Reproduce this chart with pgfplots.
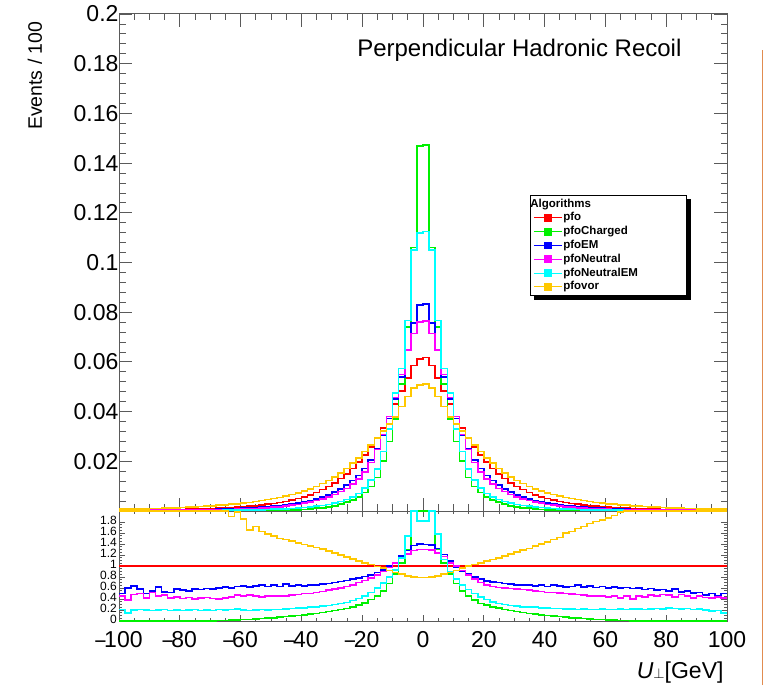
\documentclass[border=0pt]{standalone}
\usepackage{pgfplots}
\pgfplotsset{compat=1.18}
\usepackage{pgfplotstable}
\usepackage{fontspec}
\setmainfont{Liberation Sans}
\pgfdeclarelayer{bg}
\pgfsetlayers{bg,main}
\definecolor{hred}{RGB}{255,0,0}
\definecolor{hgreen}{RGB}{0,240,0}
\definecolor{hblue}{RGB}{0,0,255}
\definecolor{hmag}{RGB}{255,0,255}
\definecolor{hcyan}{RGB}{0,255,255}
\definecolor{horange}{RGB}{255,200,0}
\definecolor{frame}{RGB}{90,90,90}

% left bin edges; last row repeats last bin
\pgfplotstableread{
x r g b m c o
-100 .0003 0 .0002 .0002 .0001 .0007
-98 .0003 0 .0002 .0002 .0001 .0007
-96 .0003 0 .0002 .0002 .0001 .0008
-94 .0004 0 .0002 .0002 .0001 .0008
-92 .0004 0 .0002 .0002 .0001 .0009
-90 .0004 0 .0002 .0003 .0001 .0010
-88 .0005 0 .0003 .0003 .0001 .0010
-86 .0005 0 .0003 .0003 .0001 .0011
-84 .0005 0 .0003 .0003 .0001 .0012
-82 .0006 0 .0003 .0003 .0001 .0013
-80 .0006 0 .0004 .0004 .0001 .0014
-78 .0007 0 .0004 .0004 .0001 .0015
-76 .0008 0 .0004 .0004 .0002 .0016
-74 .0008 0 .0005 .0004 .0002 .0018
-72 .0009 0 .0005 .0004 .0002 .0019
-70 .0010 0 .0006 .0005 .0002 .0021
-68 .0011 0 .0007 .0005 .0002 .0023
-66 .0012 0 .0007 .0005 .0003 .0025
-64 .0014 0 .0008 .0006 .0003 .0028
-62 .0015 0 .0009 .0007 .0003 .0029
-60 .0017 .0001 .0011 .0008 .0004 .0032
-58 .0019 .0001 .0012 .0009 .0004 .0035
-56 .0021 .0001 .0013 .0010 .0005 .0038
-54 .0024 .0001 .0015 .0011 .0005 .0042
-52 .0027 .0001 .0017 .0013 .0006 .0046
-50 .0030 .0002 .0019 .0015 .0007 .0050
-48 .0034 .0002 .0021 .0017 .0008 .0054
-46 .0039 .0003 .0025 .0020 .0009 .0060
-44 .0044 .0004 .0028 .0023 .0010 .0066
-42 .0050 .0005 .0032 .0026 .0012 .0072
-40 .0057 .0006 .0036 .0031 .0014 .0080
-38 .0065 .0008 .0042 .0036 .0016 .0088
-36 .0075 .0011 .0049 .0042 .0019 .0099
-34 .0086 .0013 .0056 .0049 .0022 .0111
-32 .0098 .0017 .0065 .0057 .0026 .0123
-30 .0113 .0021 .0076 .0067 .0031 .0138
-28 .0130 .0027 .0088 .0078 .0038 .0153
-26 .0149 .0036 .0104 .0091 .0046 .0171
-24 .0171 .0044 .0123 .0108 .0056 .0192
-22 .0196 .0057 .0143 .0129 .0070 .0214
-20 .0225 .0074 .0171 .0158 .0093 .0239
-18 .0257 .0098 .0206 .0195 .0125 .0265
-16 .0294 .0135 .0250 .0247 .0170 .0294
-14 .0335 .0200 .0305 .0308 .0240 .0322
-12 .0380 .0280 .0372 .0380 .0330 .0350
-10 .0430 .0370 .0450 .0456 .0474 .0378
-8 .0482 .0510 .0540 .0550 .0574 .0420
-6 .0535 .0740 .0648 .0648 .0767 .0460
-4 .0585 .1060 .0757 .0715 .1050 .0495
-2 .0612 .1468 .0828 .0760 .1118 .0508
0 .0618 .1473 .0833 .0765 .1124 .0511
2 .0585 .1060 .0757 .0715 .1050 .0495
4 .0535 .0740 .0648 .0648 .0767 .0460
6 .0482 .0510 .0540 .0550 .0574 .0420
8 .0430 .0370 .0450 .0456 .0474 .0378
10 .0380 .0280 .0372 .0380 .0330 .0350
12 .0335 .0200 .0305 .0308 .0240 .0322
14 .0294 .0135 .0250 .0247 .0170 .0294
16 .0257 .0098 .0206 .0195 .0125 .0265
18 .0225 .0074 .0171 .0158 .0093 .0239
20 .0196 .0057 .0143 .0129 .0070 .0214
22 .0171 .0044 .0123 .0108 .0056 .0192
24 .0149 .0036 .0104 .0091 .0046 .0171
26 .0130 .0027 .0088 .0078 .0038 .0153
28 .0113 .0021 .0076 .0067 .0031 .0138
30 .0098 .0017 .0065 .0057 .0026 .0123
32 .0086 .0013 .0056 .0049 .0022 .0111
34 .0075 .0011 .0049 .0042 .0019 .0099
36 .0065 .0008 .0042 .0036 .0016 .0088
38 .0057 .0006 .0036 .0031 .0014 .0080
40 .0050 .0005 .0032 .0026 .0012 .0072
42 .0044 .0004 .0028 .0023 .0010 .0066
44 .0039 .0003 .0025 .0020 .0009 .0060
46 .0034 .0002 .0021 .0017 .0008 .0054
48 .0030 .0002 .0019 .0015 .0007 .0050
50 .0027 .0001 .0017 .0013 .0006 .0046
52 .0024 .0001 .0015 .0011 .0005 .0042
54 .0021 .0001 .0013 .0010 .0005 .0038
56 .0019 .0001 .0012 .0009 .0004 .0035
58 .0017 .0001 .0011 .0008 .0004 .0032
60 .0015 0 .0009 .0007 .0003 .0029
62 .0014 0 .0008 .0006 .0003 .0028
64 .0012 0 .0007 .0005 .0003 .0025
66 .0011 0 .0007 .0005 .0002 .0023
68 .0010 0 .0006 .0005 .0002 .0021
70 .0009 0 .0005 .0004 .0002 .0019
72 .0008 0 .0005 .0004 .0002 .0018
74 .0008 0 .0004 .0004 .0002 .0016
76 .0007 0 .0004 .0004 .0001 .0015
78 .0006 0 .0004 .0004 .0001 .0014
80 .0006 0 .0003 .0003 .0001 .0013
82 .0005 0 .0003 .0003 .0001 .0012
84 .0005 0 .0003 .0003 .0001 .0011
86 .0005 0 .0003 .0003 .0001 .0010
88 .0004 0 .0002 .0003 .0001 .0010
90 .0004 0 .0002 .0002 .0001 .0009
92 .0004 0 .0002 .0002 .0001 .0008
94 .0003 0 .0002 .0002 .0001 .0008
96 .0003 0 .0002 .0002 .0001 .0007
98 .0003 0 .0002 .0002 .0001 .0007
100 .0003 0 .0002 .0002 .0001 .0007
}\toptab

\pgfplotstableread{
x g b m c o
-100 0 .50 .45 .21 2
-98 0 .60 .38 .15 2
-96 0 .64 .48 .20 2
-94 0 .58 .50 .21 2
-92 0 .50 .42 .20 2
-90 0 .55 .52 .19 2
-88 0 .62 .45 .20 2
-86 0 .53 .47 .21 2
-84 0 .52 .42 .19 2
-82 0 .58 .44 .20 2
-80 0 .56 .41 .19 2
-78 0 .55 .43 .20 2
-76 0 .58 .40 .21 2
-74 0 .57 .42 .19 2
-72 .001 .59 .43 .20 2
-70 .003 .58 .41 .19 2
-68 .006 .60 .40 .21 2
-66 .009 .62 .42 .20 2
-64 .013 .60 .44 .21 1.90
-62 .018 .63 .47 .22 1.98
-60 .024 .64 .45 .20 1.85
-58 .03 .62 .47 .19 1.65
-56 .035 .64 .45 .20 1.72
-54 .042 .66 .44 .21 1.63
-52 .05 .63 .46 .20 1.58
-50 .06 .65 .45 .21 1.55
-48 .07 .63 .45 .21 1.50
-46 .08 .67 .46 .22 1.48
-44 .09 .64 .47 .23 1.45
-42 .10 .66 .48 .24 1.42
-40 .11 .64 .50 .24 1.39
-38 .125 .65 .50 .25 1.36
-36 .14 .66 .52 .26 1.34
-34 .155 .67 .54 .27 1.31
-32 .17 .68 .56 .28 1.27
-30 .19 .70 .58 .30 1.24
-28 .21 .72 .60 .32 1.20
-26 .23 .74 .63 .34 1.16
-24 .26 .76 .66 .37 1.13
-22 .29 .78 .70 .41 1.09
-20 .33 .81 .74 .46 1.06
-18 .39 .84 .78 .52 1.03
-16 .46 .88 .84 .60 .99
-14 .55 .93 .90 .69 .96
-12 .68 1.00 .97 .80 .92
-10 .85 1.06 1.05 .93 .88
-8 1.05 1.18 1.15 1.15 .85
-6 1.30 1.28 1.22 1.55 .82
-4 2 1.37 1.28 2 .80
-2 2 1.40 1.30 1.82 .79
0 2 1.39 1.30 1.82 .79
2 2 1.38 1.29 2 .80
4 1.30 1.32 1.24 1.58 .82
6 1.05 1.21 1.17 1.12 .85
8 .85 1.09 1.06 .90 .88
10 .68 .98 1.00 .76 .92
12 .55 .91 .92 .65 .96
14 .45 .85 .84 .57 1.00
16 .38 .80 .76 .50 1.03
18 .32 .76 .70 .44 1.06
20 .29 .73 .66 .39 1.09
22 .26 .71 .63 .35 1.12
24 .24 .70 .61 .32 1.15
26 .21 .68 .60 .30 1.18
28 .19 .67 .59 .28 1.22
30 .17 .66 .58 .27 1.25
32 .155 .65 .57 .26 1.29
34 .14 .66 .56 .25 1.32
36 .125 .64 .55 .25 1.36
38 .11 .65 .54 .24 1.40
40 .10 .63 .52 .24 1.44
42 .09 .66 .52 .23 1.48
44 .08 .64 .51 .23 1.52
46 .07 .62 .50 .22 1.60
48 .06 .63 .49 .22 1.63
50 .05 .65 .48 .21 1.68
52 .042 .62 .47 .22 1.72
54 .035 .64 .46 .21 1.77
56 .03 .61 .45 .21 1.81
58 .024 .63 .45 .22 1.84
60 .018 .60 .44 .21 1.87
62 .013 .62 .46 .21 1.92
64 .009 .60 .42 .22 1.98
66 .006 .61 .45 .21 2
68 .003 .59 .40 .22 2
70 .001 .60 .46 .22 2
72 0 .57 .44 .21 2
74 0 .59 .47 .22 2
76 0 .56 .45 .23 2
78 0 .57 .48 .22 2
80 0 .55 .47 .24 2
82 0 .58 .44 .23 2
84 0 .53 .48 .22 2
86 0 .55 .45 .23 2
88 0 .51 .42 .21 2
90 0 .52 .46 .22 2
92 0 .47 .43 .20 2
94 0 .50 .42 .18 2
96 0 .46 .44 .19 2
98 0 .50 .42 .15 2
100 0 .50 .42 .15 2
}\ratiotab

\newcommand{\mn}{\scalebox{0.8}[1]{\textendash}\kern-0.06em}
\begin{document}
\begin{tikzpicture}
\useasboundingbox (0,0) rectangle (767pt,685pt);
\begin{axis}[
  at={(119pt,174pt)}, anchor=south west, scale only axis,
  width=608pt, height=497pt,
  xmin=-100, xmax=100, ymin=0, ymax=0.2,
  clip=false,
  xtick={-100,-80,-60,-40,-20,0,20,40,60,80,100}, xticklabels={},
  minor x tick num=3,
  ytick={0,0.02,0.04,0.06,0.08,0.1,0.12,0.14,0.16,0.18,0.2},
  yticklabels={,0.02,0.04,0.06,0.08,0.1,0.12,0.14,0.16,0.18,0.2},
  minor y tick num=4,
  tick align=inside,
  major tick length=13pt, minor tick length=6.5pt,
  tick style={frame, line width=0.8pt},
  axis line style={frame, line width=1pt},
  yticklabel style={font=\fontsize{23}{23}\selectfont, xshift=3pt},
  legend cell align=left,
  legend style={at={(rel axis cs:0.676,0.636)}, anchor=north west,
    name=leg,
    draw=black, line width=0.8pt, fill=white,
    font=\fontsize{11.5}{12}\selectfont\bfseries,
    row sep=0.4pt, inner xsep=3pt, inner ysep=2pt,
    nodes={inner sep=1.2pt, text height=8.5pt, text depth=2.5pt}},
  legend image code/.code={\draw[#1, line width=0.7pt] (0pt,0pt) -- (28pt,0pt);
    \fill[#1] (10.5pt,-3.4pt) rectangle (17.5pt,3.4pt);},
]
\addplot[const plot, hred, line width=1.6pt, forget plot] table[x=x,y=r]{\toptab};
\addplot[const plot, hgreen, line width=1.6pt, forget plot] table[x=x,y=g]{\toptab};
\addplot[const plot, hblue, line width=1.6pt, forget plot] table[x=x,y=b]{\toptab};
\addplot[const plot, hmag, line width=1.6pt, forget plot] table[x=x,y=m]{\toptab};
\addplot[const plot, hcyan, line width=1.6pt, forget plot] table[x=x,y=c]{\toptab};
\addplot[const plot, horange, line width=1.6pt, forget plot] table[x=x,y=o]{\toptab};
\addlegendimage{empty legend}\addlegendentry{\hspace*{-33pt}Algorithms}
\addlegendimage{hred}\addlegendentry{pfo}
\addlegendimage{hgreen}\addlegendentry{pfoCharged}
\addlegendimage{hblue}\addlegendentry{pfoEM}
\addlegendimage{hmag}\addlegendentry{pfoNeutral}
\addlegendimage{hcyan}\addlegendentry{pfoNeutralEM\hspace*{44pt}}
\addlegendimage{horange}\addlegendentry{pfovor}
\end{axis}
\begin{pgfonlayer}{bg}
\fill[black] ([xshift=4pt,yshift=-4pt]leg.south west) rectangle ([xshift=4pt,yshift=-4pt]leg.north east);
\end{pgfonlayer}

\begin{axis}[
  at={(119pt,64pt)}, anchor=south west, scale only axis,
  width=608pt, height=110pt,
  xmin=-100, xmax=100, ymin=0, ymax=2,
  clip=false,
  xtick={-100,-80,-60,-40,-20,0,20,40,60,80,100},
  xticklabels={\mn100,\mn80,\mn60,\mn40,\mn20,0,20,40,60,80,100},
  minor x tick num=3,
  ytick={0,0.2,0.4,0.6,0.8,1,1.2,1.4,1.6,1.8},
  yticklabels={0,0.2,0.4,0.6,0.8,1,1.2,1.4,1.6,1.8},
  minor y tick num=3,
  tick align=inside,
  major tick length=6pt, minor tick length=3pt,
  tick style={frame, line width=0.8pt},
  axis line style={frame, line width=1pt},
  xticklabel style={font=\fontsize{23}{23}\selectfont, inner sep=1pt, yshift=-9pt},
  yticklabel style={font=\fontsize{12}{12}\selectfont, inner sep=1pt, xshift=-1pt, yshift=1.5pt},
]
\addplot[hred, line width=1.6pt] coordinates {(-100,1) (100,1)};
\addplot[const plot, hgreen, line width=1.6pt] table[x=x,y=g]{\ratiotab};
\addplot[const plot, hblue, line width=1.6pt] table[x=x,y=b]{\ratiotab};
\addplot[const plot, hmag, line width=1.6pt] table[x=x,y=m]{\ratiotab};
\addplot[const plot, hcyan, line width=1.6pt] table[x=x,y=c]{\ratiotab};
\addplot[const plot, horange, line width=1.6pt] table[x=x,y=o]{\ratiotab};
\end{axis}

\node[rotate=90, anchor=east, font=\fontsize{19.5}{20}\selectfont] at (35pt,667pt) {Events / 100};
\node[anchor=base east, font=\fontsize{24}{24}\selectfont] at (685pt,628pt) {Perpendicular Hadronic Recoil};
\node[anchor=base east, font=\fontsize{23}{23}\selectfont] at (727pt,7pt) {\textit{U}{\fontsize{15}{15}\selectfont$\perp$}[GeV]};
\draw[color={rgb,255:red,225;green,140;blue,80}, line width=1.2pt] (762.5pt,0pt) -- (762.5pt,635pt);
\end{tikzpicture}
\end{document}
